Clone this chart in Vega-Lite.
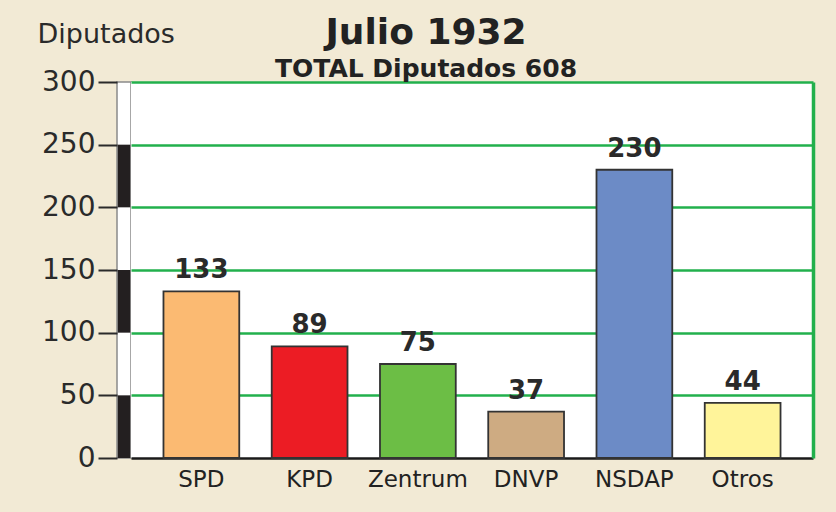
{
  "$schema": "https://vega.github.io/schema/vega-lite/v6.json",
  "background": "#F2EAD5",
  "padding": {"left": 36, "top": 15, "right": 23, "bottom": 27},
  "spacing": 0,
  "bounds": "flush",
  "config": {
    "font": "DejaVu Sans",
    "axis": {"labelFont": "DejaVu Sans", "titleFont": "DejaVu Sans"}
  },
  "datasets": {
    "escanos": [
      {"partido": "SPD", "diputados": 133},
      {"partido": "KPD", "diputados": 89},
      {"partido": "Zentrum", "diputados": 75},
      {"partido": "DNVP", "diputados": 37},
      {"partido": "NSDAP", "diputados": 230},
      {"partido": "Otros", "diputados": 44}
    ],
    "franjas": [
      {"desde": 0, "hasta": 50},
      {"desde": 100, "hasta": 150},
      {"desde": 200, "hasta": 250}
    ]
  },
  "hconcat": [
    {
      "width": 14,
      "height": 376,
      "view": {"fill": "white", "stroke": "#8a8a8a", "strokeWidth": 1.5},
      "data": {"name": "franjas"},
      "mark": {"type": "bar", "color": "#231F20"},
      "encoding": {
        "y": {
          "field": "desde",
          "type": "quantitative",
          "scale": {"domain": [0, 300], "nice": false},
          "axis": {
            "title": "Diputados",
            "titleAngle": 0,
            "titleAlign": "left",
            "titleBaseline": "alphabetic",
            "titleX": -80,
            "titleY": -40,
            "titleFontSize": 27,
            "titleFontWeight": "normal",
            "titleColor": "#2a2a2a",
            "values": [0, 50, 100, 150, 200, 250, 300],
            "labelFontSize": 28,
            "labelColor": "#2a2a2a",
            "labelPadding": 3,
            "tickSize": 19,
            "tickColor": "#2a2a2a",
            "tickWidth": 2,
            "domain": false,
            "grid": false
          }
        },
        "y2": {"field": "hasta"}
      }
    },
    {
      "width": 682,
      "height": 376,
      "view": {"fill": "white", "stroke": null},
      "data": {"name": "escanos"},
      "title": {
        "text": "Julio 1932",
        "subtitle": "TOTAL Diputados 608",
        "fontSize": 36,
        "fontWeight": "bold",
        "color": "#222222",
        "subtitleFontSize": 25,
        "subtitleFontWeight": "bold",
        "subtitleColor": "#222222",
        "subtitlePadding": 5,
        "anchor": "middle",
        "dx": -46,
        "offset": -1
      },
      "encoding": {
        "x": {
          "field": "partido",
          "type": "nominal",
          "sort": null,
          "scale": {"paddingInner": 0.3, "paddingOuter": 0.3},
          "axis": {
            "title": null,
            "labelAngle": 0,
            "labelFontSize": 23,
            "labelColor": "#222222",
            "labelPadding": 10,
            "ticks": false,
            "domainColor": "#1a1a1a",
            "domainWidth": 2.5
          }
        },
        "y": {
          "field": "diputados",
          "type": "quantitative",
          "scale": {"domain": [0, 300], "nice": false}
        }
      },
      "layer": [
        {
          "mark": {"type": "bar", "stroke": "#333333", "strokeWidth": 1.8},
          "encoding": {
            "y": {
              "field": "diputados",
              "type": "quantitative",
              "scale": {"domain": [0, 300], "nice": false},
              "axis": {
                "orient": "left",
                "title": null,
                "labels": false,
                "ticks": false,
                "domain": false,
                "grid": true,
                "gridColor": "#22B04C",
                "gridWidth": 2.5,
                "gridOpacity": 1,
                "values": [50, 100, 150, 200, 250, 300]
              }
            },
            "color": {
              "field": "partido",
              "type": "nominal",
              "scale": {
                "domain": ["SPD", "KPD", "Zentrum", "DNVP", "NSDAP", "Otros"],
                "range": ["#FBBA72", "#EC1C24", "#6CBE45", "#CEAB82", "#6C8BC6", "#FFF49A"]
              },
              "legend": null
            }
          }
        },
        {
          "mark": {"type": "text", "baseline": "bottom", "dy": -8, "fontSize": 26, "fontWeight": "bold", "color": "#2a2a2a"},
          "encoding": {
            "text": {"field": "diputados", "type": "quantitative"},
            "y": {
              "field": "diputados",
              "type": "quantitative",
              "scale": {"domain": [0, 300], "nice": false},
              "axis": {
                "orient": "right",
                "title": null,
                "labels": false,
                "ticks": false,
                "grid": false,
                "domain": true,
                "domainColor": "#22B04C",
                "domainWidth": 3.5
              }
            }
          }
        }
      ],
      "resolve": {"axis": {"y": "independent"}}
    }
  ]
}
